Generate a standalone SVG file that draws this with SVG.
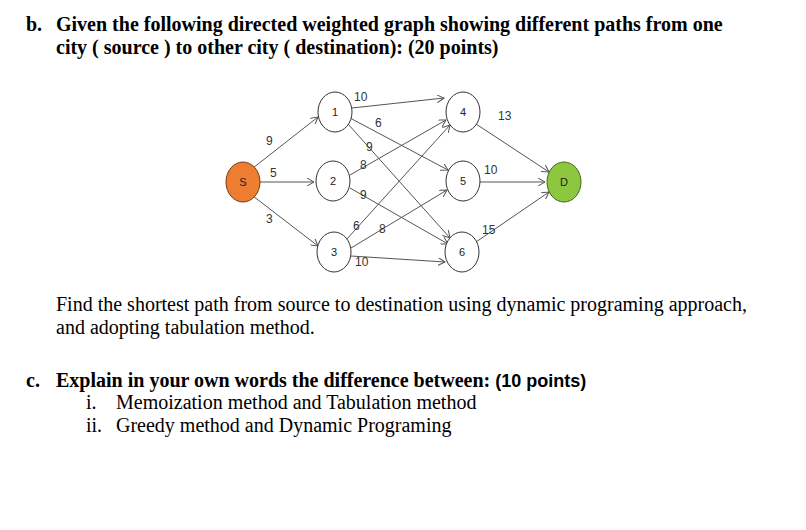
<svg xmlns="http://www.w3.org/2000/svg" width="806" height="530" viewBox="0 0 806 530">
<style>
.t{font-family:"Liberation Serif",serif;font-size:20px;fill:#000}
.b{font-weight:bold}
.a{font-family:"Liberation Sans",sans-serif}
.n{fill:#fff;stroke:#333;stroke-width:1}
.nl{font-family:"Liberation Sans",sans-serif;font-size:11px;text-anchor:middle;fill:#222}
.el{font-family:"Liberation Sans",sans-serif;font-size:12px;fill:#333}
.e{stroke:#555;stroke-width:1;fill:none;marker-end:url(#ar)}
</style>
<defs><marker id="ar" markerWidth="8" markerHeight="8" refX="7" refY="4" orient="auto" markerUnits="userSpaceOnUse"><path d="M0,0 L7,4 L0,8" fill="none" stroke="#555"/></marker></defs>
<rect width="806" height="530" fill="#fff"/>
<text class="t b" x="26" y="31">b.</text>
<text class="t b" x="56" y="31">Given the following directed weighted graph showing different paths from one</text>
<text class="t b" x="56" y="54">city ( source ) to other city ( destination): (20 points)</text>
<g id="connectors">
<line class="e" x1="253" y1="168" x2="318" y2="117"/>
<line class="e" x1="260" y1="182" x2="314" y2="182"/>
<line class="e" x1="253" y1="196" x2="318" y2="246"/>
<line class="e" x1="352" y1="108" x2="444" y2="98"/>
<line class="e" x1="350" y1="118" x2="448" y2="170"/>
<line class="e" x1="348" y1="124" x2="450" y2="238"/>
<line class="e" x1="350" y1="175" x2="446" y2="120"/>
<line class="e" x1="350" y1="188" x2="448" y2="244"/>
<line class="e" x1="346" y1="240" x2="450" y2="125"/>
<line class="e" x1="351" y1="248" x2="447" y2="190"/>
<line class="e" x1="351" y1="256" x2="445" y2="262"/>
<line class="e" x1="476" y1="124" x2="549" y2="172"/>
<line class="e" x1="480" y1="182" x2="545" y2="182"/>
<line class="e" x1="476" y1="242" x2="549" y2="192"/>
</g>
<g id="labels">
<text class="el" x="354" y="101">10</text>
<text class="el" x="375" y="127">6</text>
<text class="el" x="366" y="151">9</text>
<text class="el" x="360" y="169">8</text>
<text class="el" x="360" y="199">9</text>
<text class="el" x="353" y="230">6</text>
<text class="el" x="379" y="233">8</text>
<text class="el" x="355" y="266">10</text>
<text class="el" x="498" y="120">13</text>
<text class="el" x="484" y="174">10</text>
<text class="el" x="482" y="234">15</text>
<text class="el" x="266" y="145">9</text>
<text class="el" x="270" y="177">5</text>
<text class="el" x="266" y="223">3</text>
</g>
<g id="nS"><ellipse cx="243" cy="182" rx="17" ry="20" fill="#ed7d31" stroke="#7a3b10"/><text class="nl" x="243" y="186">S</text></g>
<g id="n1"><ellipse class="n" cx="335" cy="112" rx="17" ry="20"/><text class="nl" x="335" y="116">1</text></g>
<g id="n2"><ellipse class="n" cx="333" cy="181" rx="17" ry="20"/><text class="nl" x="333" y="185">2</text></g>
<g id="n3"><ellipse class="n" cx="334" cy="252" rx="17" ry="20"/><text class="nl" x="334" y="256">3</text></g>
<g id="n4"><ellipse class="n" cx="463" cy="112" rx="17" ry="20"/><text class="nl" x="463" y="116">4</text></g>
<g id="n5"><ellipse class="n" cx="463" cy="181" rx="17" ry="20"/><text class="nl" x="463" y="185">5</text></g>
<g id="n6"><ellipse class="n" cx="462" cy="252" rx="17" ry="20"/><text class="nl" x="462" y="256">6</text></g>
<g id="nD"><ellipse cx="564" cy="182" rx="17" ry="20" fill="#8dc63f" stroke="#3d6b1a"/><text class="nl" x="564" y="186">D</text></g>
<text class="t" x="56" y="311">Find the shortest path from source to destination using dynamic programing approach,</text>
<text class="t" x="56" y="334">and adopting tabulation method.</text>
<text class="t b" x="26" y="387">c.</text>
<text class="t b" x="56" y="387">Explain in your own words the difference between: <tspan class="a" font-size="18">(10 points)</tspan></text>
<text class="t" x="86" y="409">i.</text>
<text class="t" x="116" y="409">Memoization method and Tabulation method</text>
<text class="t" x="86" y="432">ii.</text>
<text class="t" x="116" y="432">Greedy method and Dynamic Programing</text>
</svg>
